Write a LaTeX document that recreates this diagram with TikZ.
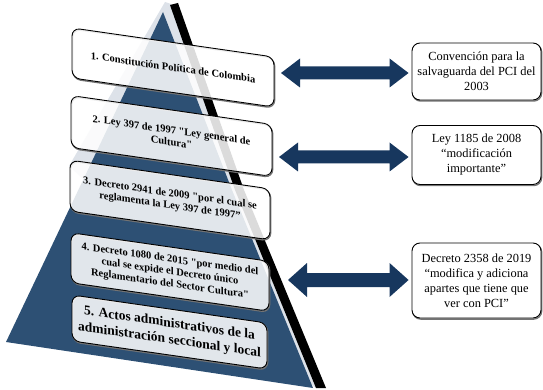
\documentclass[tikz,border=0pt]{standalone}
\usepackage{fontspec}
\setmainfont{Liberation Serif}[Ligatures=TeXOff]
\usetikzlibrary{calc}

\definecolor{pyrblue}{HTML}{2D5074}
\definecolor{pyrlight}{HTML}{DDE2E9}
\definecolor{arrowblue}{HTML}{17375E}

\tikzset{
  boxshadow/.style={preaction={draw=black!55, line width=1.3pt,
    transform canvas={shift={(0.7pt,-1.1pt)}}}},
  lawbox/.style={boxshadow, draw=black, line width=0.9pt, fill=white, fill opacity=0.86,
    text opacity=1, rounded corners=8pt, yslant=-0.144, transform shape,
    align=center, inner sep=2pt, font=\bfseries\fontsize{10.5}{12.3}\selectfont},
  notebox/.style={boxshadow, draw=black, line width=0.9pt, fill=white, rounded corners=8pt,
    align=center, inner sep=1pt, font=\fontsize{12.4}{15}\selectfont},
}

% double-headed block arrow between two named points:
% #1 left tip, #2 right tip, #3 head length, #4 head half-height, #5 shaft half-height
\newcommand{\dblarrow}[5]{%
  \fill[arrowblue] (#1) -- ($(#1)+(#3,-#4)$) -- ($(#1)+(#3,-#5)$)
    -- ($(#2)+(-#3,-#5)$) -- ($(#2)+(-#3,-#4)$) -- (#2)
    -- ($(#2)+(-#3,#4)$) -- ($(#2)+(-#3,#5)$)
    -- ($(#1)+(#3,#5)$) -- ($(#1)+(#3,#4)$) -- cycle;}

\begin{document}
\begin{tikzpicture}[x=1pt,y=-1pt]
\useasboundingbox (0,0) rectangle (543,390);

% pyramid: light back face, blue front face, dark side edge
\fill[pyrlight] (165,2) -- (171,4) -- (235,190) -- (316,388) -- (290,370) -- (69,166) -- cycle;
\fill[pyrblue] (163,12) -- (232,190) -- (313,388) -- (6,342) -- cycle;
\fill[black] (170,5) -- (178,3) -- (244,190) -- (326,388) -- (316,388) -- (235,190) -- cycle;

% levels of the normative pyramid
\node[lawbox, minimum width=202pt, minimum height=50pt] (b1) at (173,67.5)
  {1. Constitución Política de Colombia};
\node[lawbox, minimum width=201pt, minimum height=52pt] (b2) at (171.5,136)
  {2. Ley 397 de 1997 "Ley general de\\Cultura"};
\node[lawbox, minimum width=200pt, minimum height=51pt] (b3) at (170,200)
  {3. Decreto 2941 de 2009 "por el cual se\\reglamenta la Ley 397 de 1997”};
\node[lawbox, minimum width=198pt, minimum height=50pt] (b4) at (170,272)
  {4. Decreto 1080 de 2015 "por medio del\\cual se expide el Decreto único\\Reglamentario del Sector Cultura"};
\node[lawbox, minimum width=195pt, minimum height=46pt,
  font=\bfseries\fontsize{13.5}{16.5}\selectfont] (b5) at (169.5,332)
  {5. Actos administrativos de la\\administración seccional y local};

% related norms
\node[notebox, minimum width=129pt, minimum height=57pt] (r1) at (476.5,71.5)
  {Convención para la\\salvaguarda del PCI del\\2003};
\node[notebox, minimum width=129pt, minimum height=59pt] (r2) at (476.5,155)
  {Ley 1185 de 2008\\“modificación\\importante”};
\node[notebox, minimum width=129pt, minimum height=75pt] (r3) at (476.5,280.5)
  {Decreto 2358 de 2019\\“modifica y adiciona\\apartes que tiene que\\ver con PCI”};

% links between levels and related norms
\coordinate (a1s) at (281,73);
\coordinate (a2s) at (279,157);
\coordinate (a3s) at (288,280);
\path (a1s -| r1.west) ++(-3,0) coordinate (a1e);
\path (a2s -| r2.west) ++(-3,0) coordinate (a2e);
\path (a3s -| r3.west) ++(-3,0) coordinate (a3e);
\dblarrow{a1s}{a1e}{19}{14.5}{6.5}
\dblarrow{a2s}{a2e}{19}{14.5}{6.5}
\dblarrow{a3s}{a3e}{19}{17}{7}
\end{tikzpicture}
\end{document}
